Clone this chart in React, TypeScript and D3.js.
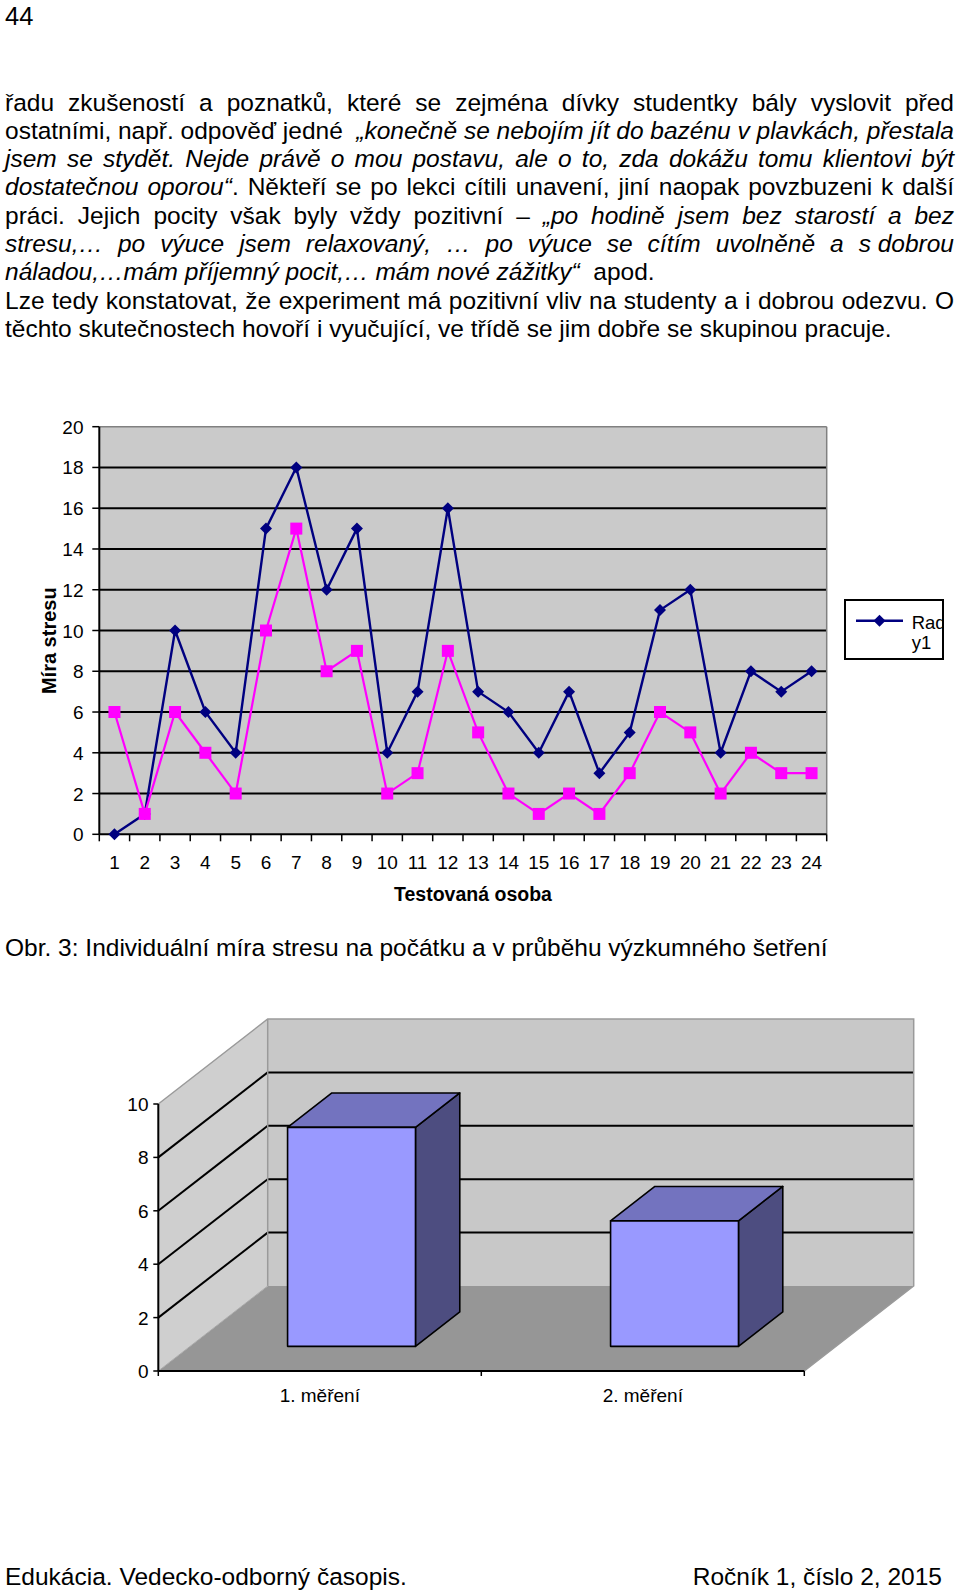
import React, { useEffect, useRef } from 'react';
import * as d3 from 'd3';

// ---------- DATA ----------
const persons = ['1','2','3','4','5','6','7','8','9','10','11','12','13','14','15','16','17','18','19','20','21','22','23','24'];
const rady1 = [0,1,10,6,4,15,18,12,15,4,7,16,7,6,4,7,3,5,11,12,4,8,7,8];
const rady2 = [6,1,6,4,2,10,15,8,9,2,3,9,5,2,1,2,1,3,6,5,2,4,3,3];
const yTicks1 = [0,2,4,6,8,10,12,14,16,18,20];
const legendLines = ['Rad','y1'];
const yLabel1 = 'Míra stresu';
const xLabel1 = 'Testovaná osoba';

const measurements = ['1. měření','2. měření'];
const measureValues = [8.2, 4.7];
const yTicks2 = [0,2,4,6,8,10];

const pageNumber = '44';
const caption = 'Obr. 3: Individuální míra stresu na počátku a v průběhu výzkumného šetření';
const footerLeft = 'Edukácia. Vedecko-odborný časopis.';
const footerRight = 'Ročník 1, číslo 2, 2015';

type Seg = [string, boolean];
const bodySegs: Seg[][] = [
  [['řadu zkušeností a poznatků, které se zejména dívky studentky bály vyslovit před', false]],
  [['ostatními, např. odpověď jedné  ', false], ['„konečně se nebojím jít do bazénu v plavkách, přestala', true]],
  [['jsem se stydět. Nejde právě o mou postavu, ale o to, zda dokážu tomu klientovi být', true]],
  [['dostatečnou oporou“', true], ['. Někteří se po lekci cítili unavení, jiní naopak povzbuzeni k další', false]],
  [['práci. Jejich pocity však byly vždy pozitivní – ', false], ['„po hodině jsem bez starostí a bez', true]],
  [['stresu,… po výuce jsem relaxovaný, … po výuce se cítím uvolněně a s\u00A0dobrou', true]],
  [['náladou,…mám příjemný pocit,… mám nové zážitky“', true], ['  apod.', false]],
  [['Lze tedy konstatovat, že experiment má pozitivní vliv na studenty a i dobrou odezvu. O', false]],
  [['těchto skutečnostech hovoří i vyučující, ve třídě se jim dobře se skupinou pracuje.', false]],
];
const bodyJustify = [true, true, true, true, true, true, false, true, false];

// ---------- STYLE ----------
const FONT = "'Liberation Sans', Arial, sans-serif";
const NAVY = '#000080';
const MAGENTA = '#FF00FF';

export default function App() {
  const textRef = useRef<SVGGElement>(null);

  const bodyLeft = 5, bodyRight = 954, bodyTop = 110.5, bodyLead = 28.3, bodySize = 24.5;

  useEffect(() => {
    if (!textRef.current) return;
    const g = d3.select(textRef.current);
    g.selectAll('*').remove();
    bodySegs.forEach((segs, li) => {
      const y = bodyTop + li * bodyLead;
      const words: Seg[][] = [[]];
      segs.forEach(([txt, it]) => {
        txt.split(' ').forEach((p, pi) => {
          if (pi > 0) words.push([]);
          if (p.length) words[words.length - 1].push([p, it]);
        });
      });
      const nodes = words.map((w) => {
        const t = g.append('text').attr('y', y).attr('font-family', FONT)
          .attr('font-size', bodySize).attr('fill', '#000');
        w.forEach(([p, it]) => t.append('tspan').attr('font-style', it ? 'italic' : 'normal').text(p));
        return t;
      });
      const widths = nodes.map((n) => (n.node() as SVGTextElement).getComputedTextLength());
      const total = d3.sum(widths);
      const gap = bodyJustify[li] && words.length > 1
        ? (bodyRight - bodyLeft - total) / (words.length - 1)
        : bodySize * 0.278;
      let x = bodyLeft;
      nodes.forEach((n, i) => { n.attr('x', x); x += widths[i] + gap; });
    });
  }, []);

  // ---- Chart 1 ----
  const p1 = { left: 99.3, right: 826.7, top: 426.7, bottom: 834.3 };
  const x1 = d3.scaleBand<string>().domain(persons).range([p1.left, p1.right]).padding(0);
  const y1 = d3.scaleLinear().domain([0, 20]).range([p1.bottom, p1.top]);
  const cx = (i: number) => (x1(persons[i]) as number) + x1.bandwidth() / 2;
  const lineGen = d3.line<number>().x((_, i) => cx(i)).y((d) => y1(d));
  const diamond = (s: number) => `M0,${-s}L${s},0L0,${s}L${-s},0Z`;

  // ---- Chart 2 (3D) ----
  const p2 = { left: 158.3, right: 804.3 };
  const x2 = d3.scaleBand<string>().domain(measurements).range([p2.left, p2.right]).padding(0);
  const y2 = d3.scaleLinear().domain([0, 10]).range([1371, 1104]);
  const DX = 109.4, DY = -85;
  const f1 = 0.29, f2 = 0.695;
  const pts = (arr: [number, number][]) => arr.map((p) => p.join(',')).join(' ');
  const y0 = y2(0), y10 = y2(10);

  return (
    <svg width={960} height={1591} style={{ position: 'absolute', left: 0, top: 0, background: '#fff' }}
      fontFamily={FONT}>
      <rect x={0} y={0} width={960} height={1591} fill="#fff" />
      <text x={5} y={24.5} fontSize={25.5} fill="#000">{pageNumber}</text>
      <g ref={textRef} />

      {/* ===== Chart 1 ===== */}
      <rect x={p1.left} y={p1.top} width={p1.right - p1.left} height={p1.bottom - p1.top} fill="#CACACA" />
      {yTicks1.filter((t) => t > 0 && t < 20).map((t) => (
        <line key={'g' + t} x1={p1.left} x2={p1.right} y1={y1(t)} y2={y1(t)} stroke="#000" strokeWidth={2} />
      ))}
      <line x1={p1.left} x2={p1.right} y1={y1(20)} y2={y1(20)} stroke="#808080" strokeWidth={1.5} />
      <line x1={p1.right} x2={p1.right} y1={p1.top} y2={p1.bottom} stroke="#808080" strokeWidth={1.5} />
      <line x1={p1.left} x2={p1.left} y1={p1.top} y2={p1.bottom} stroke="#000" strokeWidth={2} />
      <line x1={p1.left} x2={p1.right} y1={p1.bottom} y2={p1.bottom} stroke="#000" strokeWidth={2} />
      {yTicks1.map((t) => (
        <g key={'yt' + t}>
          <line x1={p1.left - 7} x2={p1.left} y1={y1(t)} y2={y1(t)} stroke="#000" strokeWidth={1.5} />
          <text x={83.5} y={y1(t) + 7} fontSize={19} textAnchor="end" fill="#000">{t}</text>
        </g>
      ))}
      {persons.map((c) => (
        <line key={'xt' + c} x1={x1(c) as number} x2={x1(c) as number} y1={p1.bottom} y2={p1.bottom + 7}
          stroke="#000" strokeWidth={1.5} />
      ))}
      <line x1={p1.right} x2={p1.right} y1={p1.bottom} y2={p1.bottom + 7} stroke="#000" strokeWidth={1.5} />
      {persons.map((c, i) => (
        <text key={'xl' + c} x={cx(i)} y={868.5} fontSize={19} textAnchor="middle" fill="#000">{c}</text>
      ))}
      <text x={473} y={900.5} fontSize={19.5} fontWeight="bold" textAnchor="middle">{xLabel1}</text>
      <text transform="translate(56,640.7) rotate(-90)" fontSize={20} fontWeight="bold" textAnchor="middle">{yLabel1}</text>

      <path d={lineGen(rady1) || ''} fill="none" stroke={NAVY} strokeWidth={2.4} />
      {rady1.map((v, i) => (
        <path key={'d' + i} d={diamond(6)} transform={`translate(${cx(i)},${y1(v)})`} fill={NAVY} />
      ))}
      <path d={lineGen(rady2) || ''} fill="none" stroke={MAGENTA} strokeWidth={2.2} />
      {rady2.map((v, i) => (
        <rect key={'s' + i} x={cx(i) - 6} y={y1(v) - 6} width={12} height={12} fill={MAGENTA} />
      ))}

      {/* legend */}
      <defs>
        <clipPath id="legclip"><rect x={846} y={601} width={96} height={57} /></clipPath>
      </defs>
      <rect x={845} y={600} width={98} height={59} fill="#fff" stroke="#000" strokeWidth={2} />
      <line x1={856} x2={903} y1={620.7} y2={620.7} stroke={NAVY} strokeWidth={2.4} />
      <path d={diamond(6)} transform="translate(879.5,620.7)" fill={NAVY} />
      <g clipPath="url(#legclip)">
        {legendLines.map((l, i) => (
          <text key={l} x={911.7} y={628.5 + i * 20} fontSize={18.5} fill="#000">{l}</text>
        ))}
      </g>

      <text x={5} y={956} fontSize={24.5} fill="#000">{caption}</text>

      {/* ===== Chart 2 (3D columns) ===== */}
      <polygon points={pts([[p2.left, y0], [p2.right, y0], [p2.right + DX, y0 + DY], [p2.left + DX, y0 + DY]])}
        fill="#969696" />
      <polygon points={pts([[p2.left, y0], [p2.left, y10], [p2.left + DX, y10 + DY], [p2.left + DX, y0 + DY]])}
        fill="#CFCFCF" />
      <rect x={p2.left + DX} y={y10 + DY} width={p2.right - p2.left} height={y0 - y10} fill="#C8C8C8" />
      {yTicks2.filter((t) => t > 0 && t < 10).map((t) => (
        <g key={'g2' + t}>
          <line x1={p2.left + DX} x2={p2.right + DX} y1={y2(t) + DY} y2={y2(t) + DY} stroke="#000" strokeWidth={2} />
          <line x1={p2.left} x2={p2.left + DX} y1={y2(t)} y2={y2(t) + DY} stroke="#000" strokeWidth={2} />
        </g>
      ))}
      <polyline points={pts([[p2.left, y10], [p2.left + DX, y10 + DY], [p2.right + DX, y10 + DY], [p2.right + DX, y0 + DY], [p2.right, y0]])}
        fill="none" stroke="#9A9A9A" strokeWidth={1.5} />
      <line x1={p2.left + DX} x2={p2.left + DX} y1={y10 + DY} y2={y0 + DY} stroke="#9A9A9A" strokeWidth={1.5} />
      <line x1={p2.left} x2={p2.left + DX} y1={y0} y2={y0 + DY} stroke="#A8A8A8" strokeWidth={1} />
      <line x1={p2.left} x2={p2.left} y1={y10} y2={y0} stroke="#000" strokeWidth={2} />
      <line x1={p2.left} x2={p2.right} y1={y0} y2={y0} stroke="#000" strokeWidth={2} />
      {yTicks2.map((t) => (
        <g key={'yt2' + t}>
          <line x1={p2.left - 5} x2={p2.left} y1={y2(t)} y2={y2(t)} stroke="#000" strokeWidth={1.5} />
          <text x={148.5} y={y2(t) + 7} fontSize={19} textAnchor="end" fill="#000">{t}</text>
        </g>
      ))}
      {[...measurements.map((m) => x2(m) as number), p2.right].map((xv, i) => (
        <line key={'xt2' + i} x1={xv} x2={xv} y1={y0} y2={y0 + 5} stroke="#000" strokeWidth={1.5} />
      ))}
      {measurements.map((m, i) => {
        const bw = x2.bandwidth();
        const bx0 = (x2(m) as number) + bw * 0.302 + f1 * DX;
        const bx1 = (x2(m) as number) + bw * 0.698 + f1 * DX;
        const top = y2(measureValues[i]) + f1 * DY;
        const bot = y0 + f1 * DY;
        const ddx = (f2 - f1) * DX, ddy = (f2 - f1) * DY;
        return (
          <g key={'bar' + m} stroke="#000" strokeWidth={1.6} strokeLinejoin="round">
            <polygon points={pts([[bx1, top], [bx1 + ddx, top + ddy], [bx1 + ddx, bot + ddy], [bx1, bot]])} fill="#4D4D80" />
            <polygon points={pts([[bx0, top], [bx1, top], [bx1 + ddx, top + ddy], [bx0 + ddx, top + ddy]])} fill="#7373BF" />
            <rect x={bx0} y={top} width={bx1 - bx0} height={bot - top} fill="#9999FF" />
          </g>
        );
      })}
      {measurements.map((m) => (
        <text key={'cl' + m} x={(x2(m) as number) + x2.bandwidth() / 2} y={1401.5} fontSize={19}
          textAnchor="middle" fill="#000">{m}</text>
      ))}

      <text x={5} y={1584.5} fontSize={24.5} fill="#000">{footerLeft}</text>
      <text x={942} y={1584.5} fontSize={24.5} textAnchor="end" fill="#000">{footerRight}</text>
    </svg>
  );
}
